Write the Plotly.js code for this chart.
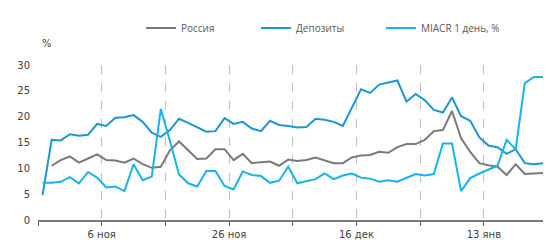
<!DOCTYPE html>
<html>
<head>
<meta charset="utf-8">
<script src="https://cdn.plot.ly/plotly-3.0.1.min.js"></script>
<style>html,body{margin:0;padding:0;background:#fff;}#chart{width:548px;height:242px;}</style>
</head>
<body>
<div id="chart"></div>
<script>
// Business-day categories
const dates = ['28.10','29.10','30.10','31.10','01.11','05.11','06.11','07.11','08.11','11.11',
  '12.11','13.11','14.11','15.11','18.11','19.11','20.11','21.11','22.11','25.11',
  '26.11','27.11','28.11','29.11','02.12','03.12','04.12','05.12','06.12','09.12',
  '10.12','11.12','12.12','13.12','16.12','17.12','18.12','19.12','20.12','23.12',
  '24.12','25.12','26.12','27.12','28.12','30.12','09.01','10.01','13.01','14.01',
  '15.01','16.01','17.01','20.01','21.01','22.01'];

const russia = [null,10.5,11.6,12.3,11.1,11.9,12.7,11.6,11.5,11.1,
  11.9,10.8,10.1,10.3,13.5,15.2,13.5,11.8,11.9,13.7,
  13.7,11.6,12.8,11.0,11.2,11.3,10.5,11.7,11.4,11.6,
  12.1,11.6,11.0,11.0,12.1,12.5,12.6,13.2,13.0,14.1,
  14.7,14.7,15.5,17.2,17.4,21.1,15.8,13.2,11.0,10.6,
  10.3,8.7,10.8,8.9,9.0,9.1];

const deposits = [4.8,15.5,15.4,16.6,16.3,16.5,18.6,18.2,19.8,19.9,
  20.3,19.0,16.9,16.1,17.4,19.6,18.8,17.9,17.1,17.2,
  19.7,18.6,19.0,17.7,17.2,19.2,18.4,18.2,17.9,18.0,
  19.6,19.4,19.0,18.2,21.8,25.3,24.6,26.2,26.6,27.0,
  22.9,24.4,23.2,21.3,20.8,23.7,20.1,19.2,16.0,14.4,
  14.1,12.8,13.7,11.0,10.8,11.0];

const miacr = [7.2,7.2,7.4,8.3,7.1,9.3,8.2,6.3,6.5,5.6,
  10.8,7.7,8.4,21.5,15.3,8.8,7.1,6.5,9.5,9.5,
  6.6,5.9,9.4,8.7,8.5,7.2,7.6,10.3,7.1,7.5,
  7.9,9.0,7.9,8.6,9.0,8.2,8.0,7.4,7.7,7.4,
  8.1,8.9,8.6,8.9,14.8,14.8,5.6,8.1,9.0,9.8,
  10.5,15.5,13.7,26.5,27.7,27.7];

const seriesNames = ['Россия', 'Депозиты', 'MIACR 1 день, %'];
const labelDates = ['06.11', '26.11', '16.12', '13.01'];
const tickLabels = ['6 ноя', '26 ноя', '16 дек', '13 янв'];
const yTicks = [0, 5, 10, 15, 20, 25, 30];

const xIdx = dates.map((d, i) => i);
// tick marks every 7 categories, on category boundaries
const tickvals = [], ticktext = [];
for (let k = -0.5; k < dates.length - 1; k += 7) {
  tickvals.push(k);
  const li = labelDates.findIndex(d => dates.indexOf(d) + 0.5 === k);
  ticktext.push(li >= 0 ? tickLabels[li] : '');
}

const mk = (y, name, color, lg) => ({
  x: xIdx, y: y, name: name, type: 'scatter', mode: 'lines',
  line: {color: color, width: 2}, text: dates, hoverinfo: 'text+y+name',
  connectgaps: false, legend: lg
});

const data = [
  mk(russia, seriesNames[0], '#7A7A7A', 'legend'),
  mk(deposits, seriesNames[1], '#1C97D3', 'legend2'),
  mk(miacr, seriesNames[2], '#16B4EA', 'legend3')
];

const axisFont = {family: 'DejaVu Sans, sans-serif', size: 10, color: '#404040'};
const legFont = {family: 'Open Sans, sans-serif', size: 10, color: '#595959'};
const legBase = (xpx) => ({
  orientation: 'h', xref: 'container', yref: 'container',
  x: xpx / 548, xanchor: 'left', y: 1 - 28 / 242, yanchor: 'middle',
  font: legFont, bgcolor: 'rgba(0,0,0,0)', borderwidth: 0
});

const layout = {
  width: 548, height: 242,
  margin: {l: 38, r: 5, t: 65, b: 22, pad: 0},
  paper_bgcolor: '#fff', plot_bgcolor: '#fff',
  showlegend: true,
  legend: legBase(141),
  legend2: legBase(256),
  legend3: legBase(381),
  xaxis: {
    type: 'linear', range: [-0.5, dates.length - 1], fixedrange: true,
    tickmode: 'array', tickvals: tickvals, ticktext: ticktext,
    ticks: 'outside', ticklen: 4, tickcolor: '#595959', tickwidth: 1,
    showline: true, linecolor: '#7A7A7A', linewidth: 2,
    showgrid: true, gridcolor: '#C0C0C0', griddash: 'dash', gridwidth: 1,
    zeroline: false, tickfont: axisFont
  },
  yaxis: {
    range: [0, 30], fixedrange: true,
    tickmode: 'array', tickvals: yTicks,
    showgrid: false, zeroline: false, showline: false, ticks: '',
    ticklabelstandoff: 7, tickfont: axisFont
  },
  yaxis2: {
    overlaying: 'y', anchor: 'x', range: [0, 30], dtick: 6, tick0: 0,
    showgrid: true, gridcolor: '#C0C0C0', griddash: 'dash', gridwidth: 1,
    showticklabels: false, zeroline: false, showline: false, ticks: ''
  },
  annotations: [{
    text: '%', xref: 'paper', yref: 'paper', x: (47 - 38) / 505, xanchor: 'center',
    y: (220 - 43) / 155, yanchor: 'middle', showarrow: false,
    font: {family: 'DejaVu Sans, sans-serif', size: 10, color: '#404040'}
  }]
};

Plotly.newPlot('chart', data, layout, {staticPlot: true, displayModeBar: false});
</script>
</body>
</html>
